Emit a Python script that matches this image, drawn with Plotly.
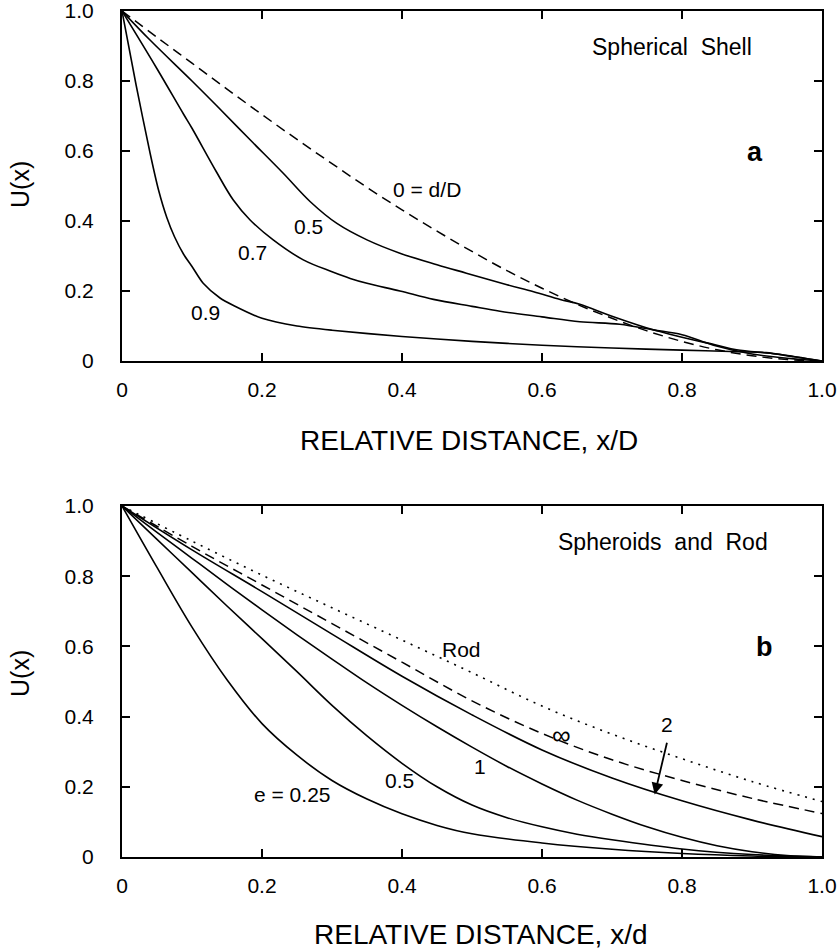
import plotly.graph_objects as go
from plotly.subplots import make_subplots

# ---------- Panel a: Spherical Shell (x/D) ----------
shell_x_0 = [0, 0.05, 0.1, 0.15, 0.2, 0.25, 0.3, 0.35, 0.4, 0.45, 0.5, 0.55, 0.6, 0.65, 0.7, 0.75, 0.8, 0.85, 0.9, 0.95, 1.0]
shell_y_0 = [1.0, 0.925, 0.851, 0.777, 0.704, 0.633, 0.564, 0.496, 0.432, 0.371, 0.313, 0.258, 0.208, 0.162, 0.122, 0.086, 0.056, 0.032, 0.015, 0.004, 0.0]

shell_x_05 = [0, 0.04, 0.1, 0.135, 0.183, 0.23, 0.269, 0.307, 0.35, 0.397, 0.45, 0.492, 0.55, 0.588, 0.626, 0.654, 0.7, 0.759, 0.8, 0.85, 0.878, 0.935, 1.0]
shell_y_05 = [1.0, 0.917, 0.80, 0.73, 0.632, 0.537, 0.455, 0.393, 0.346, 0.308, 0.275, 0.251, 0.218, 0.198, 0.176, 0.162, 0.128, 0.089, 0.068, 0.045, 0.032, 0.02, 0.0]

shell_x_07 = [0, 0.05, 0.088, 0.1, 0.135, 0.159, 0.183, 0.216, 0.259, 0.3, 0.326, 0.35, 0.397, 0.445, 0.5, 0.54, 0.6, 0.654, 0.711, 0.759, 0.8, 0.845, 0.9, 0.95, 1.0]
shell_y_07 = [1.0, 0.835, 0.705, 0.665, 0.54, 0.46, 0.403, 0.346, 0.289, 0.255, 0.236, 0.222, 0.20, 0.176, 0.156, 0.142, 0.126, 0.112, 0.105, 0.089, 0.075, 0.045, 0.02, 0.008, 0.0]

shell_x_09 = [0, 0.02, 0.04, 0.052, 0.064, 0.075, 0.088, 0.1, 0.116, 0.14, 0.16, 0.2, 0.25, 0.3, 0.4, 0.5, 0.6, 0.7, 0.8, 0.87, 0.92, 0.96, 1.0]
shell_y_09 = [1.0, 0.79, 0.595, 0.49, 0.41, 0.355, 0.305, 0.27, 0.222, 0.18, 0.158, 0.122, 0.100, 0.088, 0.070, 0.056, 0.045, 0.037, 0.031, 0.027, 0.024, 0.012, 0.0]

# ---------- Panel b: Spheroids and Rod (x/d) ----------
rod_x = [0, 0.1, 0.2, 0.3, 0.4, 0.5, 0.6, 0.7, 0.8, 0.9, 1.0]
rod_y = [1.0, 0.9, 0.803, 0.71, 0.618, 0.525, 0.43, 0.35, 0.28, 0.215, 0.158]

inf_x = [0, 0.1, 0.2, 0.3, 0.4, 0.5, 0.6, 0.7, 0.8, 0.9, 1.0]
inf_y = [1.0, 0.885, 0.775, 0.665, 0.555, 0.445, 0.352, 0.277, 0.218, 0.167, 0.124]

e2_x = [0, 0.1, 0.2, 0.3, 0.4, 0.5, 0.6, 0.7, 0.8, 0.9, 1.0]
e2_y = [1.0, 0.875, 0.756, 0.635, 0.515, 0.405, 0.305, 0.225, 0.16, 0.105, 0.058]

e1_x = [0, 0.05, 0.1, 0.15, 0.2, 0.25, 0.3, 0.35, 0.4, 0.45, 0.5, 0.55, 0.6, 0.65, 0.7, 0.75, 0.8, 0.85, 0.9, 0.95, 1.0]
e1_y = [1.0, 0.925, 0.851, 0.777, 0.704, 0.633, 0.564, 0.496, 0.432, 0.371, 0.313, 0.258, 0.208, 0.162, 0.122, 0.086, 0.056, 0.032, 0.015, 0.004, 0.0]

e05_x = [0, 0.05, 0.1, 0.15, 0.2, 0.25, 0.3, 0.35, 0.4, 0.45, 0.5, 0.55, 0.6, 0.65, 0.7, 0.8, 0.9, 1.0]
e05_y = [1.0, 0.905, 0.81, 0.715, 0.622, 0.528, 0.432, 0.345, 0.267, 0.2, 0.148, 0.112, 0.086, 0.065, 0.049, 0.023, 0.007, 0.0]

e025_x = [0, 0.05, 0.1, 0.15, 0.2, 0.25, 0.3, 0.35, 0.4, 0.45, 0.5, 0.6, 0.7, 0.8, 0.9, 1.0]
e025_y = [1.0, 0.825, 0.655, 0.505, 0.38, 0.29, 0.218, 0.165, 0.123, 0.09, 0.066, 0.04, 0.022, 0.01, 0.003, 0.0]

tick_vals = [0, 0.2, 0.4, 0.6, 0.8, 1.0]
tick_text = ["0", "0.2", "0.4", "0.6", "0.8", "1.0"]

FONT = "Liberation Sans, Arial, Helvetica, sans-serif"

fig = make_subplots(rows=2, cols=1, vertical_spacing=0.0)

def add_line(x, y, row, dash="solid", width=1.6, smoothing=1.0):
    fig.add_trace(go.Scatter(x=x, y=y, mode="lines",
                             line=dict(color="black", width=width, dash=dash, shape="spline", smoothing=smoothing),
                             showlegend=False, hoverinfo="skip"), row=row, col=1)

add_line(shell_x_0, shell_y_0, 1, dash="10px,6px", width=1.5)
add_line(shell_x_05, shell_y_05, 1)
add_line(shell_x_07, shell_y_07, 1)
add_line(shell_x_09, shell_y_09, 1, smoothing=0.7)

add_line(rod_x, rod_y, 2, dash="2px,6px", width=1.6)
add_line(inf_x, inf_y, 2, dash="10px,6px", width=1.5)
add_line(e2_x, e2_y, 2)
add_line(e1_x, e1_y, 2)
add_line(e05_x, e05_y, 2)
add_line(e025_x, e025_y, 2)

axis_common = dict(range=[0, 1.0], tickvals=tick_vals, ticktext=tick_text,
                   showline=True, linecolor="black", linewidth=2, mirror="ticks",
                   ticks="inside", ticklen=8, tickwidth=1.6, tickcolor="black",
                   showgrid=False, zeroline=False, automargin=False,
                   ticklabeloverflow="allow",
                   tickfont=dict(family=FONT, size=21, color="black"))

fig.update_xaxes(**axis_common)
fig.update_yaxes(**axis_common)
fig.update_xaxes(ticklabelstandoff=9)
fig.update_yaxes(ticklabelstandoff=22)

plot_top, plot_bot = 11, 857
ph = plot_bot - plot_top
def ypaper(py):
    return (plot_bot - py) / ph

fig.update_layout(
    width=839, height=952,
    margin=dict(l=122, r=17, t=11, b=95, autoexpand=False),
    plot_bgcolor="white", paper_bgcolor="white",
    xaxis=dict(domain=[0, 1]),
    yaxis=dict(domain=[ypaper(361), ypaper(11)]),
    xaxis2=dict(domain=[0, 1]),
    yaxis2=dict(domain=[ypaper(857), ypaper(506)]),
)

ann = []
def txt(text, x, y, xref, yref, size=21, bold=False, angle=0):
    ann.append(dict(text=("<b>%s</b>" % text) if bold else text, x=x, y=y, xref=xref, yref=yref,
                    showarrow=False, textangle=angle,
                    font=dict(family=FONT, size=size, color="black"),
                    xanchor="center", yanchor="middle"))

# panel a labels
txt("Spherical  Shell", 0.786, 0.897, "x", "y", size=23)
txt("a", 0.904, 0.597, "x", "y", size=27, bold=True)
txt("0 = d/D", 0.436, 0.489, "x", "y")
txt("0.5", 0.266, 0.383, "x", "y")
txt("0.7", 0.186, 0.309, "x", "y")
txt("0.9", 0.119, 0.14, "x", "y")

# panel b labels
txt("Spheroids  and  Rod", 0.773, 0.898, "x2", "y2", size=23)
txt("b", 0.918, 0.599, "x2", "y2", size=27, bold=True)
txt("Rod", 0.485, 0.59, "x2", "y2")
txt("∞", 0.628, 0.348, "x2", "y2", size=26)
txt("1", 0.512, 0.257, "x2", "y2")
txt("0.5", 0.396, 0.219, "x2", "y2")
txt("e = 0.25", 0.243, 0.177, "x2", "y2")
txt("2", 0.778, 0.378, "x2", "y2")

# arrow for "2"
ann.append(dict(x=0.761, y=0.178, ax=0.779, ay=0.33, xref="x2", yref="y2", axref="x2", ayref="y2",
                showarrow=True, arrowhead=2, arrowsize=1.3, arrowwidth=1.8, arrowcolor="black", text=""))

# axis titles
txt("RELATIVE DISTANCE, x/D", (469 - 122) / 700, ypaper(440), "paper", "paper", size=28)
txt("RELATIVE DISTANCE, x/d", (480 - 122) / 700, ypaper(934), "paper", "paper", size=28)
txt("U(x)", (20 - 122) / 700, ypaper(185), "paper", "paper", size=25, angle=-90)
txt("U(x)", (20 - 122) / 700, ypaper(674), "paper", "paper", size=25, angle=-90)

fig.update_layout(annotations=ann)
fig.write_html("out.html", config={"displayModeBar": False},
               post_script="document.body.style.margin='0';document.body.style.overflow='hidden';")
